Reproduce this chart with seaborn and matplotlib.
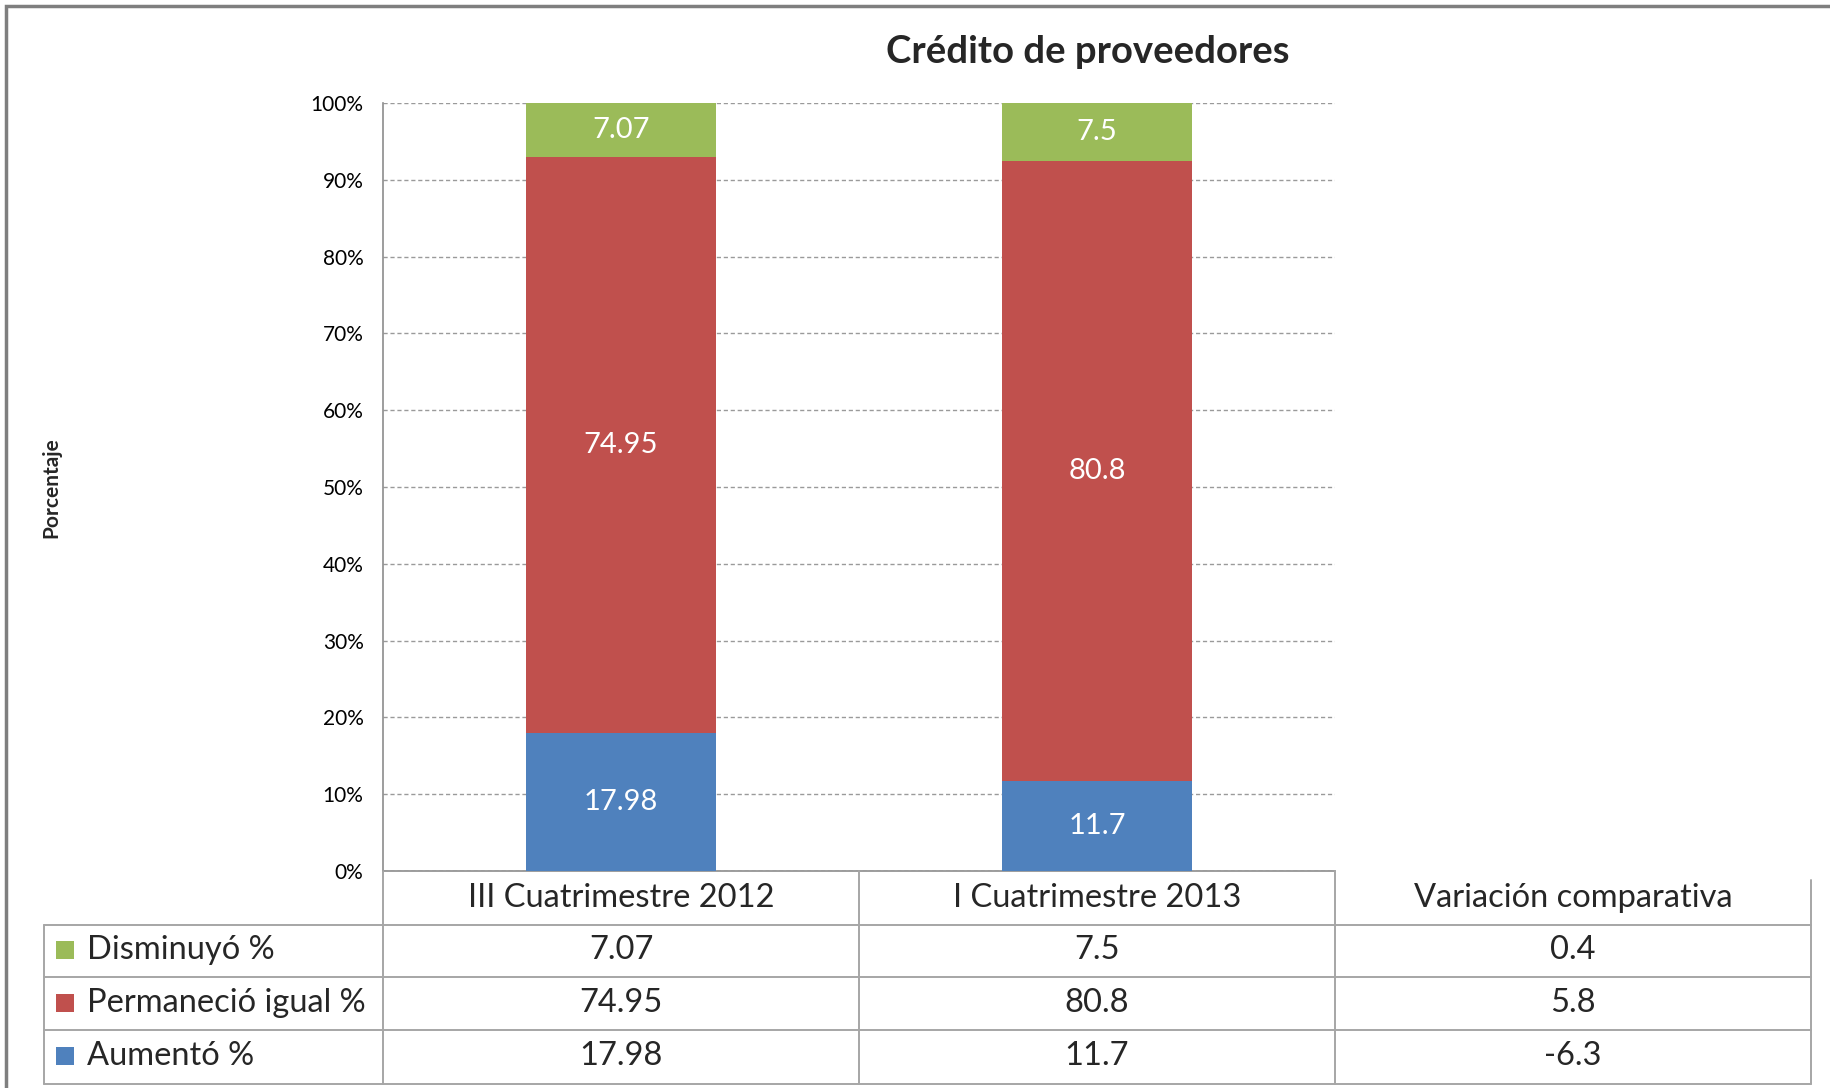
import numpy as np
import pandas as pd
import matplotlib
matplotlib.use("Agg")
import matplotlib.pyplot as plt
from matplotlib.patches import Rectangle
from matplotlib.lines import Line2D
from matplotlib.ticker import PercentFormatter, MultipleLocator
import seaborn as sns

# ---------------- data ----------------
categories = ["III Cuatrimestre 2012", "I Cuatrimestre 2013"]
series_names = ["Disminuyó %", "Permaneció igual %", "Aumentó %"]
disminuyo = [7.07, 7.5]
permanecio = [74.95, 80.8]
aumento = [17.98, 11.7]
variacion = [0.4, 5.8, -6.3]
variacion_header = "Variación comparativa"
title = "Crédito de proveedores"
ylabel = "Porcentaje"

colors = {"Disminuyó %": "#9BBB59", "Permaneció igual %": "#C0504D", "Aumentó %": "#4F81BD"}

# ---------------- style ----------------
sns.set_theme(style="white")
plt.rcParams["font.family"] = ["Lato", "DejaVu Sans"]

W, H = 1831, 1088
fig = plt.figure(figsize=(W / 100, H / 100), dpi=100)
fig.patch.set_facecolor("white")

def fx(px):
    return px / W

def fy(py):
    return 1 - py / H

ax = fig.add_axes([fx(383), fy(871), fx(1335) - fx(383), fy(103) - fy(871)])

# stacked bars (bottom -> top: Aumentó, Permaneció, Disminuyó)
stack_order = [("Aumentó %", aumento), ("Permaneció igual %", permanecio), ("Disminuyó %", disminuyo)]
bottom = np.zeros(len(categories))
for name, vals in stack_order:
    sns.barplot(x=categories, y=vals, bottom=bottom, color=colors[name], width=0.4,
                saturation=1, errorbar=None, ax=ax, zorder=3, linewidth=0, edgecolor="none")
    bar_container = ax.containers[-1]
    ax.bar_label(bar_container, labels=[f"{v:g}" for v in vals], label_type="center",
                 color="white", fontsize=21)
    bottom = bottom + np.array(vals)

ax.set_xlim(-0.5, 1.5)
ax.set_ylim(0, 100)
ax.yaxis.set_major_locator(MultipleLocator(10))
ax.yaxis.set_major_formatter(PercentFormatter(decimals=0))
ax.tick_params(axis="y", length=0, pad=14, labelsize=15, labelcolor="#000000")
ax.set_xticks([])
ax.set_xlabel("")
ax.set_ylabel("")
ax.grid(axis="y", color="#9A9A9A", linestyle=(0, (3, 2)), linewidth=1, zorder=0)
ax.set_axisbelow(True)
for s in ["top", "right"]:
    ax.spines[s].set_visible(False)
ax.spines["left"].set_color("#8C8C8C")
ax.spines["left"].set_linewidth(1.2)
ax.spines["bottom"].set_color("#8C8C8C")
ax.spines["bottom"].set_linewidth(1.2)

# title and y label
fig.text(fx(1088), fy(52), title, ha="center", va="center", fontsize=27.5, fontweight="bold")
fig.text(fx(51), fy(488), ylabel, ha="center", va="center", rotation=90, fontsize=15, fontweight="bold")

# ---------------- data table ----------------
to_fig = ax.transData + fig.transFigure.inverted()
col_edges = [to_fig.transform((x, 0))[0] for x in [-0.5, 0.5, 1.5, 2.5]]
col_centers = [(a + b) / 2 for a, b in zip(col_edges[:-1], col_edges[1:])]

line_c = "#A6A6A6"
lw = 1.4
y_head_top = fy(871)
row_tops = [fy(925), fy(977), fy(1030)]
y_bottom = fy(1084)
x_left = fx(44)

def hline(x0, x1, y):
    fig.add_artist(Line2D([x0, x1], [y, y], color=line_c, lw=lw, transform=fig.transFigure))

def vline(x, y0, y1):
    fig.add_artist(Line2D([x, x], [y0, y1], color=line_c, lw=lw, transform=fig.transFigure))

# horizontal lines
for yt in row_tops:
    hline(x_left, col_edges[-1], yt)
hline(x_left, col_edges[-1], y_bottom)
# vertical lines
vline(x_left, row_tops[0], y_bottom)
vline(col_edges[0], y_head_top, y_bottom)
vline(col_edges[1], y_head_top, y_bottom)
vline(col_edges[2], y_head_top, y_bottom)
vline(col_edges[3], fy(880), y_bottom)

# header row
headers = categories + [variacion_header]
for cx, h in zip(col_centers, headers):
    fig.text(cx, fy(898), h, ha="center", va="center", fontsize=23.5)

# body rows (top -> bottom: Disminuyó, Permaneció, Aumentó)
row_series = [("Disminuyó %", disminuyo), ("Permaneció igual %", permanecio), ("Aumentó %", aumento)]
row_centers = [fy(950), fy(1003), fy(1056)]
sq = 18
for i, ((name, vals), yc) in enumerate(zip(row_series, row_centers)):
    fig.add_artist(Rectangle((fx(56), yc - (sq / 2) / H), sq / W, sq / H,
                             facecolor=colors[name], edgecolor="none", transform=fig.transFigure))
    fig.text(fx(87), yc, name, ha="left", va="center", fontsize=23.5)
    cells = [f"{v:g}" for v in vals] + [f"{variacion[i]:g}"]
    for cx, t in zip(col_centers, cells):
        fig.text(cx, yc, t, ha="center", va="center", fontsize=23.5)

# outer chart border (cropped at right and bottom)
fig.add_artist(Rectangle((fx(6), fy(1100)), fx(1900) - fx(6), fy(6) - fy(1100),
                         facecolor="none", edgecolor="#7F7F7F", lw=2.5, transform=fig.transFigure))

fig.savefig("out.png", dpi=100)
